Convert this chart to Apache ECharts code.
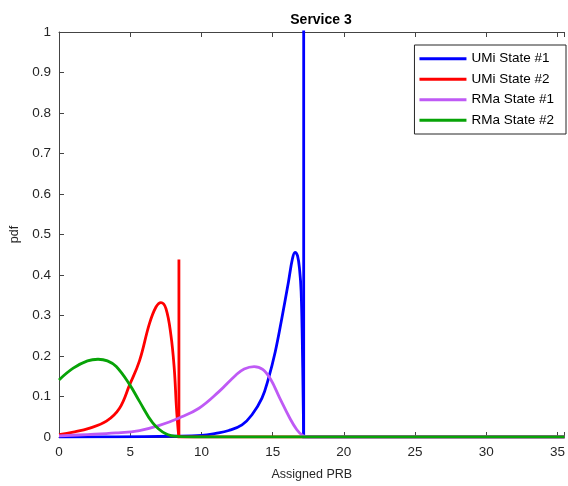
<!DOCTYPE html>
<html>
<head>
<meta charset="utf-8">
<script src="https://cdn.jsdelivr.net/npm/echarts@6/dist/echarts.min.js"></script>
<style>html,body{margin:0;padding:0;background:#fff;}#c{width:568px;height:486px;}</style>
</head>
<body>
<div id="c"></div>
<script>
// ---- data ----
const titleText = 'Service 3';
const seriesNames = ['UMi State #1', 'UMi State #2', 'RMa State #1', 'RMa State #2'];
const seriesColors = ['#0000ff', '#ff0000', '#bf5af5', '#07a307'];
const xTicks = [0, 5, 10, 15, 20, 25, 30, 35];
const yTicks = [0, 0.1, 0.2, 0.3, 0.4, 0.5, 0.6, 0.7, 0.8, 0.9, 1];

// smooth parts of each pdf
const umiState1 = [
  [0,0],[4,0.0005],[8,0.002],[10,0.004],[11,0.009],[11.92,0.016],[12.85,0.03],
  [13.55,0.055],[14.25,0.096],[14.71,0.145],
  [15.18,0.21],[15.64,0.292],[16.11,0.383],[16.39,0.44],
  [16.57,0.456],[16.75,0.447],[16.9,0.41],[17.0,0.36],
  [17.08,0.243],[17.14,0.1],[17.18,0]
];
const umiState2 = [
  [0,0.006],[1,0.012],[2.16,0.022],[3.33,0.039],[4.25,0.071],[4.95,0.128],
  [5.65,0.188],[6.35,0.28],[6.81,0.321],[7.16,0.332],
  [7.51,0.317],[7.86,0.251],[8.09,0.17],
  [8.25,0.071],[8.36,0.02],[8.42,0]
];
const rmaState1 = [
  [0,0.003],[2,0.006],[4,0.01],[5.65,0.016],[7.0,0.028],[8.44,0.047],
  [9.83,0.071],[11.23,0.112],[12.39,0.152],[13.0,0.168],
  [13.7,0.174],[14.3,0.167],[14.85,0.143],[15.5,0.096],
  [16.2,0.047],[16.7,0.018],[17.1,0.004],[17.5,0],[35.5,0]
];
const rmaState2 = [
  [0,0.141],[1.0,0.17],[2.0,0.188],[2.74,0.192],[3.4,0.188],[4.02,0.174],
  [4.95,0.13],[5.65,0.088],[6.58,0.035],
  [7.5,0.008],[8.5,0.001],[9.5,0],[35.5,0]
];
// vertical spikes (point masses) and the zero tails after them
const umiState1Spike = [[17.18,0],[17.18,1.1],[17.18,0],[35.5,0]];
const umiState2Spike = [[8.42,0],[8.42,0.438],[8.42,0],[35.5,0]];

const curveData = [umiState1, umiState2, rmaState1, rmaState2];
const spikeData = [umiState1Spike, umiState2Spike, null, null];

// ---- chart ----
const font = "'Liberation Sans', Arial, sans-serif";
const axisColor = '#444';
const textColor = '#262626';
const chart = echarts.init(document.getElementById('c'), null, {renderer: 'canvas'});

const series = [];
seriesNames.forEach((n, i) => {
  series.push({
    name: n, type: 'line', data: curveData[i], showSymbol: false, symbol: 'none',
    clip: true, smooth: 0.4,
    lineStyle: {color: seriesColors[i], width: 2.8, join: 'round'},
    itemStyle: {color: seriesColors[i]}, z: 2 + i
  });
  if (spikeData[i]) {
    series.push({
      name: n, type: 'line', data: spikeData[i], showSymbol: false, symbol: 'none',
      clip: true, smooth: false,
      lineStyle: {color: seriesColors[i], width: 2.8, join: 'miter'},
      itemStyle: {color: seriesColors[i]}, z: 2 + i
    });
  }
});

chart.setOption({
  animation: false,
  backgroundColor: '#ffffff',
  title: {
    text: titleText, left: 316, textAlign: 'center', top: 8,
    textStyle: {fontFamily: font, fontSize: 14, fontWeight: 'bold', color: '#000'}
  },
  legend: {
    data: seriesNames,
    orient: 'vertical', right: 2, top: 45,
    icon: 'rect', itemWidth: 47, itemHeight: 3, itemGap: 5,
    padding: [6, 12, 6, 5],
    backgroundColor: '#fff', borderColor: '#262626', borderWidth: 1,
    textStyle: {fontFamily: font, fontSize: 13.5, color: '#000', lineHeight: 15.5}
  },
  grid: {left: 59, right: 0, top: 32, bottom: 47, containLabel: false},
  xAxis: [{
    type: 'value', min: 0, max: 35.5, interval: 5,
    name: 'Assigned PRB', nameLocation: 'middle', nameGap: 31,
    nameTextStyle: {fontFamily: font, fontSize: 12.5, color: textColor},
    axisLine: {show: true, lineStyle: {color: axisColor, width: 1}},
    axisTick: {show: true, inside: true, length: 5, lineStyle: {color: axisColor}},
    axisLabel: {fontFamily: font, fontSize: 13.5, color: textColor, margin: 8,
      formatter: v => (xTicks.indexOf(v) >= 0 ? String(v) : '')},
    splitLine: {show: false}
  }, {
    type: 'value', min: 0, max: 35.5, interval: 5, position: 'top',
    axisLine: {show: true, lineStyle: {color: axisColor, width: 1}},
    axisTick: {show: true, inside: true, length: 5, lineStyle: {color: axisColor}},
    axisLabel: {show: false}, splitLine: {show: false}
  }],
  yAxis: [{
    type: 'value', min: 0, max: 1, interval: 0.1,
    name: 'pdf', nameLocation: 'middle', nameGap: 33, nameRotate: 90,
    nameTextStyle: {fontFamily: font, fontSize: 12.5, color: textColor},
    axisLine: {show: true, lineStyle: {color: axisColor, width: 1}},
    axisTick: {show: true, inside: true, length: 5, lineStyle: {color: axisColor}},
    axisLabel: {fontFamily: font, fontSize: 13.5, color: textColor, margin: 8,
      formatter: v => {
        const t = yTicks.find(k => Math.abs(k - v) < 1e-9);
        return t === undefined ? '' : String(t);
      }},
    splitLine: {show: false}
  }],
  series: series
});
</script>
</body>
</html>
